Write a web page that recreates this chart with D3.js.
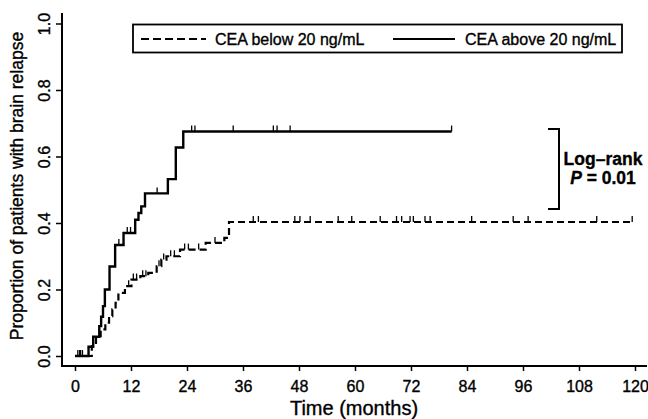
<!DOCTYPE html>
<html>
<head>
<meta charset="utf-8">
<script src="https://cdn.jsdelivr.net/npm/d3@7"></script>
<style>
  body { margin: 0; background: #fff; }
  svg { font-family: "Liberation Sans", Arial, sans-serif; }
  text { stroke: #000; stroke-width: 0.35px; }
</style>
</head>
<body>
<div id="chart"></div>
<script>
// CEA below 20 ng/mL (dashed) - step times and cumulative proportions
const belowTimes  = [0, 3.6, 4.5, 5.5, 6.5, 7.3, 8.0, 8.7, 9.3, 10.7, 12.1, 14.0, 15.7, 17.5, 18.5, 19.6, 22.5, 28.0, 32.0, 33.0, 119.4];
const belowValues = [0, 0.03, 0.06, 0.08, 0.10, 0.12, 0.14, 0.16, 0.19, 0.21, 0.23, 0.24, 0.25, 0.27, 0.29, 0.30, 0.32, 0.34, 0.355, 0.403, 0.403];
const belowCensor = [0.6, 1.2, 11.5, 12.5, 13.2, 14.5, 15.2, 18.0, 19.0, 20.5, 21.3, 23.5, 24.3, 26.5, 30.0,
  38.2, 39.3, 47.1, 48.2, 50.4, 56.4, 59.3, 65.4, 68.9, 70.0, 71.8, 72.5, 75.0, 76.1, 85.0, 93.9, 97.1, 111.8, 119.4];

// CEA above 20 ng/mL (solid)
const aboveTimes  = [0, 2.9, 3.9, 5.2, 5.6, 6.0, 6.4, 7.4, 8.6, 10.4, 12.9, 13.6, 14.2, 15.0, 19.9, 21.6, 23.2, 80.7];
const aboveValues = [0, 0.028, 0.058, 0.09, 0.118, 0.15, 0.20, 0.269, 0.334, 0.37, 0.41, 0.43, 0.45, 0.489, 0.532, 0.627, 0.675, 0.675];
const aboveCensor = [1.0, 1.6, 9.4, 11.2, 11.9, 17.6, 25.0, 25.7, 33.9, 42.5, 43.3, 46.1, 80.7];

const xTicks = [0, 12, 24, 36, 48, 60, 72, 84, 96, 108, 120];
const yTicks = [0, 0.2, 0.4, 0.6, 0.8, 1.0];
const legendLabels = ["CEA below 20 ng/mL", "CEA above 20 ng/mL"];

const width = 648, height = 419;
const svg = d3.select("#chart").append("svg")
  .attr("width", width).attr("height", height);

const x = d3.scaleLinear().domain([0, 120]).range([75, 635]);
const y = d3.scaleLinear().domain([0, 1]).range([356, 23.5]);

const axisX = 62, axisY = 366;

// frame (L shaped)
svg.append("line").attr("x1", axisX).attr("x2", axisX).attr("y1", 13).attr("y2", axisY + 1)
  .attr("stroke", "#000").attr("stroke-width", 2);
svg.append("line").attr("x1", axisX).attr("x2", 647).attr("y1", axisY).attr("y2", axisY)
  .attr("stroke", "#000").attr("stroke-width", 2);

// x axis
const gx = svg.append("g").attr("transform", `translate(0,${axisY})`)
  .call(d3.axisBottom(x).tickValues(xTicks).tickSize(5).tickSizeOuter(0).tickPadding(9.5));
gx.select(".domain").remove();
gx.selectAll("line").attr("stroke", "#000").attr("stroke-width", 1.5);
gx.selectAll("text").attr("font-size", 16).attr("fill", "#000");

// y axis, rotated labels
const gy = svg.append("g").attr("transform", `translate(${axisX},0)`)
  .call(d3.axisLeft(y).tickValues(yTicks).tickFormat(d3.format(".1f")).tickSize(6).tickSizeOuter(0));
gy.select(".domain").remove();
gy.selectAll("line").attr("stroke", "#000").attr("stroke-width", 1.5);
gy.selectAll("text")
  .attr("font-size", 16).attr("fill", "#000")
  .attr("x", null).attr("dy", null)
  .attr("transform", "translate(-12,0) rotate(-90)")
  .attr("text-anchor", "middle");

// axis titles
svg.append("text").attr("x", 354).attr("y", 415).attr("text-anchor", "middle")
  .attr("font-size", 20).text("Time (months)");
svg.append("text").attr("transform", "translate(23,186) rotate(-90)").attr("text-anchor", "middle")
  .attr("font-size", 17.5).text("Proportion of patients with brain relapse");

// curves
const line = d3.line().curve(d3.curveStepAfter).x(d => x(d[0])).y(d => y(d[1]));
const below = d3.zip(belowTimes, belowValues);
const above = d3.zip(aboveTimes, aboveValues);

svg.append("path").datum(below).attr("d", line)
  .attr("fill", "none").attr("stroke", "#000").attr("stroke-width", 2.2)
  .attr("stroke-dasharray", "7,4");
svg.append("path").datum(above).attr("d", line)
  .attr("fill", "none").attr("stroke", "#000").attr("stroke-width", 2.4);

function valueAt(times, values, t) {
  const i = d3.bisectRight(times, t) - 1;
  return values[Math.max(0, i)];
}

svg.append("g").selectAll("line").data(belowCensor).join("line")
  .attr("x1", d => x(d)).attr("x2", d => x(d))
  .attr("y1", d => y(valueAt(belowTimes, belowValues, d)))
  .attr("y2", d => y(valueAt(belowTimes, belowValues, d)) - 6)
  .attr("stroke", "#000").attr("stroke-width", 1.3);
svg.append("g").selectAll("line").data(aboveCensor).join("line")
  .attr("x1", d => x(d)).attr("x2", d => x(d))
  .attr("y1", d => y(valueAt(aboveTimes, aboveValues, d)))
  .attr("y2", d => y(valueAt(aboveTimes, aboveValues, d)) - 6)
  .attr("stroke", "#000").attr("stroke-width", 1.3);

// legend
const lg = svg.append("g");
lg.append("rect").attr("x", 133).attr("y", 24.5).attr("width", 489).attr("height", 28)
  .attr("fill", "#fff").attr("stroke", "#000").attr("stroke-width", 1.8);
lg.append("line").attr("x1", 141).attr("x2", 206).attr("y1", 39).attr("y2", 39)
  .attr("stroke", "#000").attr("stroke-width", 2).attr("stroke-dasharray", "8,4");
lg.append("text").attr("x", 215).attr("y", 45).attr("font-size", 16).text(legendLabels[0]);
lg.append("line").attr("x1", 393).attr("x2", 455).attr("y1", 39).attr("y2", 39)
  .attr("stroke", "#000").attr("stroke-width", 1.8);
lg.append("text").attr("x", 465).attr("y", 45).attr("font-size", 16).text(legendLabels[1]);

// log-rank bracket
svg.append("path").attr("d", `M${548},${y(0.683)}H${559}V${y(0.442)}H${548}`)
  .attr("fill", "none").attr("stroke", "#000").attr("stroke-width", 2);
const lr = svg.append("text").attr("font-size", 17.5).attr("font-weight", "bold").attr("text-anchor", "middle");
lr.append("tspan").attr("x", 603).attr("y", 165).text("Log\u2013rank");
const p = lr.append("tspan").attr("x", 603).attr("y", 184);
p.append("tspan").attr("font-style", "italic").text("P");
p.append("tspan").text(" = 0.01");
</script>
</body>
</html>
